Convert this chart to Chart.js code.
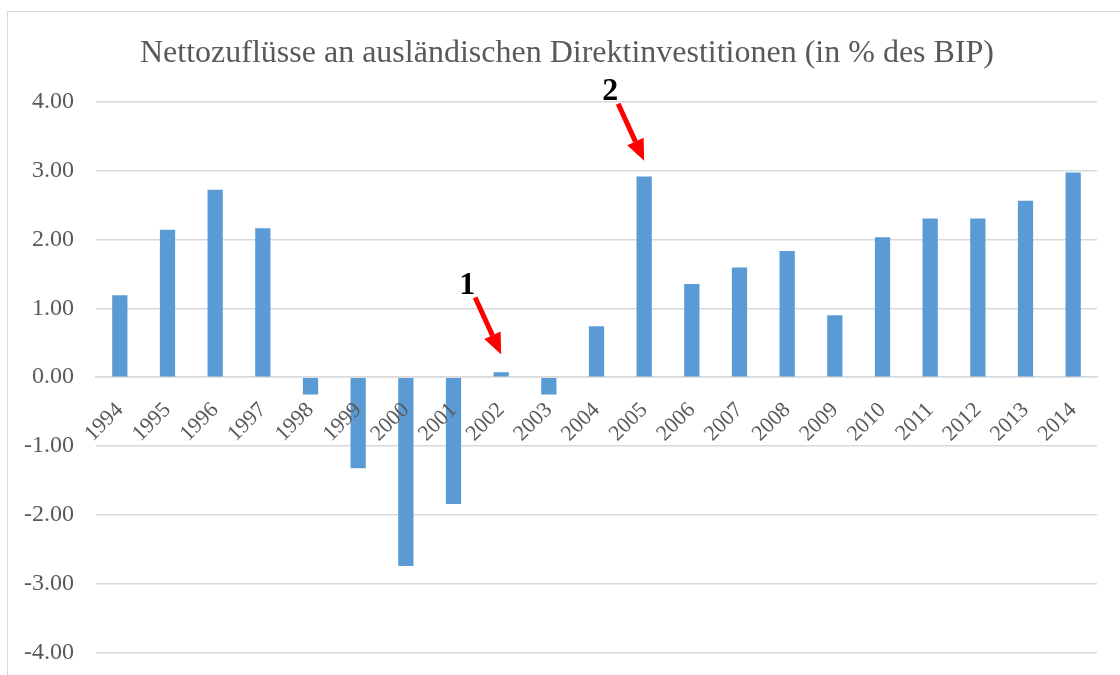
<!DOCTYPE html>
<html>
<head>
<meta charset="utf-8">
<script src="https://cdn.jsdelivr.net/npm/chart.js@4"></script>
<style>
  html, body { margin: 0; padding: 0; background: #fff; }
  #wrap { position: relative; width: 1120px; height: 675px; overflow: hidden; }
  #frame { position: absolute; left: 7px; top: 11px; width: 1200px; height: 700px;
           border: 1.5px solid #d9d9d9; box-sizing: border-box; }
  canvas { position: absolute; left: 0; top: 0; }
</style>
</head>
<body>
<div id="wrap">
  <div id="frame"></div>
  <canvas id="fdi-chart" width="1120" height="675"></canvas>
</div>
<script>
// Daten: Nettozuflüsse an ausländischen Direktinvestitionen (in % des BIP)
const years = ['1994', '1995', '1996', '1997', '1998', '1999', '2000', '2001', '2002', '2003', '2004',
               '2005', '2006', '2007', '2008', '2009', '2010', '2011', '2012', '2013', '2014'];
const fdiValues = [1.19, 2.14, 2.72, 2.16, -0.25, -1.32, -2.74, -1.84, 0.07, -0.25, 0.74,
                   2.91, 1.35, 1.59, 1.83, 0.90, 2.03, 2.30, 2.30, 2.56, 2.97];
const yTicks = [-4, -3, -2, -1, 0, 1, 2, 3, 4];

// Markierungen (Pfeile mit Nummern)
const markerLabels = ['1', '2'];
const markerYears = ['2002', '2005'];
const markerValues = [0.33, 3.14];

const serif = "'Liberation Serif', 'Times New Roman', serif";
const textColor = '#595959';
const gridColor = '#d9d9d9';

// Titel etwas nach rechts schieben (wie im Original)
const titleShift = {
  id: 'titleShift',
  afterLayout(chart) {
    if (chart.titleBlock) {
      chart.titleBlock.left += 10;
      chart.titleBlock.right += 10;
    }
  }
};

// Plugin für die roten Pfeile
const arrowPlugin = {
  id: 'arrows',
  afterDatasetsDraw(chart) {
    const ctx = chart.ctx;
    const xs = chart.scales.x;
    const ys = chart.scales.y;
    markerLabels.forEach((label, i) => {
      const tipX = xs.getPixelForValue(years.indexOf(markerYears[i]));
      const tipY = ys.getPixelForValue(markerValues[i]);
      const tailX = tipX - 26;
      const tailY = tipY - 57;
      const ang = Math.atan2(tipY - tailY, tipX - tailX);
      const headLen = 21, headW = 9;
      const baseX = tipX - headLen * Math.cos(ang);
      const baseY = tipY - headLen * Math.sin(ang);

      ctx.save();
      ctx.strokeStyle = '#ff0000';
      ctx.fillStyle = '#ff0000';
      ctx.lineWidth = 5;
      ctx.beginPath();
      ctx.moveTo(tailX, tailY);
      ctx.lineTo(baseX, baseY);
      ctx.stroke();
      ctx.beginPath();
      ctx.moveTo(tipX, tipY);
      ctx.lineTo(baseX + headW * Math.sin(ang), baseY - headW * Math.cos(ang));
      ctx.lineTo(baseX - headW * Math.sin(ang), baseY + headW * Math.cos(ang));
      ctx.closePath();
      ctx.fill();

      ctx.fillStyle = '#000';
      ctx.font = 'bold 32px ' + serif;
      ctx.textAlign = 'center';
      ctx.textBaseline = 'middle';
      ctx.fillText(label, tailX - 8, tailY - 12);
      ctx.restore();
    });
  }
};

function createChart() {
  const ctx = document.getElementById('fdi-chart').getContext('2d');
  new Chart(ctx, {
    type: 'bar',
    data: {
      labels: years,
      datasets: [{
        label: 'FDI',
        data: fdiValues,
        backgroundColor: '#5b9bd5',
        borderWidth: 0,
        barPercentage: 0.32,
        categoryPercentage: 1
      }]
    },
    options: {
      responsive: false,
      animation: false,
      layout: { padding: { left: 17, right: 23, top: 0, bottom: 22 } },
      plugins: {
        legend: { display: false },
        tooltip: { enabled: false },
        title: {
          display: true,
          text: 'Nettozuflüsse an ausländischen Direktinvestitionen (in % des BIP)',
          color: textColor,
          font: { family: serif, size: 32, weight: 'normal' },
          padding: { top: 34, bottom: 29 }
        }
      },
      scales: {
        x: {
          position: { y: 0 },
          grid: { display: false },
          border: { display: true, color: gridColor, width: 1.5 },
          ticks: {
            z: 1, // Beschriftungen über den Balken
            color: textColor,
            font: { family: serif, size: 22 },
            maxRotation: 45,
            minRotation: 45,
            padding: 12,
            autoSkip: false
          },
          afterFit(scale) { scale.height = 0; }
        },
        y: {
          min: -4,
          max: 4,
          afterBuildTicks(scale) { scale.ticks = yTicks.map(v => ({ value: v })); },
          afterFit(scale) {
            scale.width = 79;
            scale.paddingTop = 0;
            scale.paddingBottom = 0;
          },
          grid: { color: gridColor, lineWidth: 1.5, drawTicks: false },
          border: { display: false },
          ticks: {
            color: textColor,
            font: { family: serif, size: 24 },
            padding: 22,
            callback: v => v.toFixed(2)
          }
        }
      }
    },
    plugins: [titleShift, arrowPlugin]
  });
}

window.addEventListener('load', createChart);
</script>
</body>
</html>
